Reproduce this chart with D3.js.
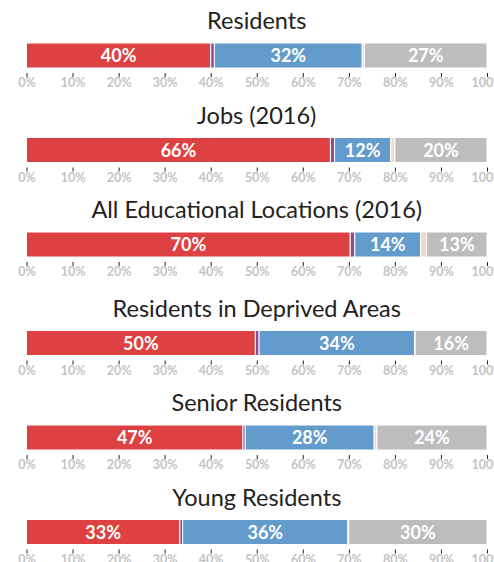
<!DOCTYPE html>
<html>
<head>
<meta charset="utf-8">
<script src="https://cdn.jsdelivr.net/npm/d3@7"></script>
<style>
  html, body { margin: 0; padding: 0; background: #fff; }
  svg { display: block; }
</style>
</head>
<body>
<svg id="chart" width="494" height="562"></svg>
<script>
// Panel titles, one stacked 100% bar per panel
const titles = [
  "Residents",
  "Jobs (2016)",
  "All Educational Locations (2016)",
  "Residents in Deprived Areas",
  "Senior Residents",
  "Young Residents"
];

// Series keys in stacking order
const seriesKeys = ["red", "purple", "blue", "beige", "grey"];

// Share (%) of each series in each panel
const redValues    = [40.0, 66.0, 70.3, 49.7, 47.0, 33.3];
const purpleValues = [0.8, 0.9, 1.0, 0.8, 0.5, 0.6];
const blueValues   = [32.1, 12.2, 14.3, 33.8, 28.0, 35.9];
const beigeValues  = [0.5, 0.9, 1.3, 0.1, 0.6, 0.2];
const greyValues   = [26.6, 20.0, 13.1, 15.6, 23.9, 30.0];

// Axis ticks
const tickValues = [0, 10, 20, 30, 40, 50, 60, 70, 80, 90, 100];
const tickLabels = ["0%", "10%", "20%", "30%", "40%", "50%", "60%", "70%", "80%", "90%", "100%"];

const colors = {
  red: "#de4141",
  purple: "#8a4c9c",
  blue: "#639bcd",
  beige: "#e9dccb",
  grey: "#bdbdbe"
};

const rows = titles.map((t, i) => ({
  title: t,
  red: redValues[i],
  purple: purpleValues[i],
  blue: blueValues[i],
  beige: beigeValues[i],
  grey: greyValues[i]
}));

const stacked = d3.stack().keys(seriesKeys)(rows);

const svg = d3.select("#chart");
const x = d3.scaleLinear().domain([0, 100]).range([26.5, 487]);

const barH = 25;
// vertical placement of each panel's bar
const barTop = i => 43 + i * 94.5 + (i >= 3 ? 4 : 0);

const panels = svg.selectAll("g.panel")
  .data(rows)
  .join("g")
  .attr("class", "panel")
  .attr("transform", (d, i) => `translate(0,${barTop(i)})`);

// titles
panels.append("text")
  .attr("x", (x.range()[0] + x.range()[1]) / 2)
  .attr("y", -14)
  .attr("text-anchor", "middle")
  .attr("font-family", "Lato, 'Open Sans', sans-serif")
  .attr("font-size", 23.5)
  .attr("fill", "#222")
  .text(d => d.title);

// segments
panels.each(function (d, i) {
  const g = d3.select(this);
  const segs = stacked.map(s => ({ key: s.key, x0: s[i][0], x1: s[i][1] }));

  g.selectAll("rect.seg")
    .data(segs)
    .join("rect")
    .attr("class", "seg")
    .attr("x", s => x(s.x0))
    .attr("y", 0)
    .attr("width", s => Math.max(0, x(s.x1) - x(s.x0)))
    .attr("height", barH)
    .attr("fill", s => colors[s.key])
    .attr("stroke", "#fff")
    .attr("stroke-width", 1);

  g.selectAll("text.val")
    .data(segs.filter(s => s.x1 - s.x0 >= 5))
    .join("text")
    .attr("class", "val")
    .attr("x", s => (x(s.x0) + x(s.x1)) / 2)
    .attr("y", barH / 2 + 6.5)
    .attr("text-anchor", "middle")
    .attr("font-family", "Lato, 'Open Sans', sans-serif")
    .attr("font-weight", 700)
    .attr("font-size", 18)
    .attr("fill", "#fff")
    .text(s => Math.round(s.x1 - s.x0) + "%");

  // axis below the bar
  const axis = d3.axisBottom(x)
    .tickValues(tickValues)
    .tickFormat((v, k) => tickLabels[k])
    .tickSize(4)
    .tickPadding(1.5);

  const ag = g.append("g")
    .attr("transform", `translate(0,${barH + 5})`)
    .call(axis);
  ag.select(".domain").remove();
  ag.selectAll(".tick line").attr("stroke", "#222");
  ag.selectAll(".tick text")
    .attr("fill", "#c4c4c4")
    .attr("font-family", "Lato, 'Open Sans', sans-serif")
    .attr("font-weight", 700)
    .attr("font-size", 12.5);
});
</script>
</body>
</html>
